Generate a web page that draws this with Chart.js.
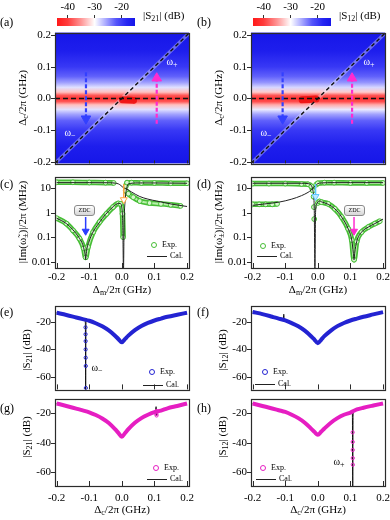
<!DOCTYPE html>
<html>
<head>
<meta charset="utf-8">
<title>Transmission maps and mode linewidths</title>
<script src="https://cdn.jsdelivr.net/npm/chart.js@4.4.1/dist/chart.umd.min.js"></script>
<style>
  html, body { margin: 0; padding: 0; background: #fff; overflow: hidden; }
  #fig { position: relative; width: 390px; height: 520px; overflow: hidden;
         font-family: "Liberation Serif", "Times New Roman", serif; color: #000; }
  #fig canvas { position: absolute; }
  .lb { position: absolute; white-space: nowrap; font-size: 11px; line-height: 1; }
  .c { transform: translate(-50%, -50%); }
  .r { transform: translate(-50%, -50%) rotate(-90deg); }
  .lb sub { font-size: 8px; vertical-align: -2px; line-height: 0; }
  .w { color: #fff; font-size: 10px; }
  .leg { font-size: 8px; transform: translateY(-50%); }
  .zdc { position: absolute; width: 19px; height: 9px; border: 1px solid #8a8a8a; border-radius: 3px;
         background: linear-gradient(#ffffff, #d6d6d6); font-size: 6px; line-height: 9px; text-align: center; }
</style>
</head>
<body>
<div id="fig"></div>
<script>
// ---------- data ----------

// shared detuning axis ticks (GHz) and dB ticks
const detTicks = [-0.2, -0.1, 0.0, 0.1, 0.2];
const dbTicks = [-60, -40, -20];
const rateTicks = [0.01, 0.1, 1, 10];

// colour scale of the maps (dB -> colour)
const cbTicks = [-40, -30, -20];
const cbRange = [-44, -15];
const cmapDb = [-44, -40, -35, -30, -26, -22, -18, -15];
const cmapRgb = [[255, 25, 25], [255, 60, 60], [255, 150, 150], [255, 255, 255],
                 [172, 172, 255], [85, 85, 250], [38, 38, 242], [22, 22, 232]];

// (a),(b) maps: |S| across the Δc band (outside the mode line)
const mapDc  = [-0.205, -0.15, -0.1, -0.07, -0.05, -0.035, -0.02, -0.01, 0, 0.01, 0.02, 0.035, 0.05, 0.07, 0.1, 0.15, 0.208];
const mapS21 = [-14, -16.5, -19.5, -22.5, -25.5, -28.5, -33, -38.5, -41, -38.5, -33, -28.5, -25.5, -22.5, -19.5, -16.5, -14];
const mapS12 = [-14, -16.5, -19.5, -22.5, -25.5, -29, -34, -39, -41, -38.5, -32.5, -28, -25, -22.5, -19.5, -16.5, -14];
const modeX = [-0.205, 0.206];            // mode line Δc = Δm
const spotAX = [0.002, 0.036], spotAY = [-0.004, -0.006];
const spotBX = [-0.048, -0.006], spotBY = [-0.004, -0.002];

// (c) |Im ω±|/2π (MHz) vs Δm
const cCal1X = [-0.2, -0.1, -0.04, -0.02, -0.01, -0.003, 0.003, 0.01, 0.02, 0.03, 0.055, 0.08, 0.107, 0.157, 0.2];
const cCal1Y = [17, 17, 16.8, 16.2, 15, 13, 11, 9.8, 8.5, 7, 4.6, 3.6, 3.0, 2.2, 1.8];
const cCal2X = [-0.2, -0.17, -0.15, -0.13, -0.12, -0.115, -0.112, -0.111, -0.11, -0.107, -0.1, -0.09, -0.07, -0.05, -0.03, -0.015, -0.005, 0.0, 0.003, 0.005, 0.007, 0.01, 0.015, 0.02, 0.05, 0.1, 0.2];
const cCal2Y = [0.6, 0.36, 0.2, 0.09, 0.05, 0.028, 0.017, 0.012, 0.017, 0.035, 0.07, 0.15, 0.38, 0.85, 1.6, 2.3, 2.4, 1.6, 0.3, 0.004, 0.4, 3, 10, 15, 16.5, 16.5, 16];
const cExp1X = [-0.2, -0.15, -0.1, -0.05, -0.025];
const cExp1Y = [17.5, 17.5, 17.2, 17, 16.5];
const cExp2X = [0.012, 0.016, 0.03, 0.06, 0.1, 0.15, 0.2];
const cExp2Y = [12, 17, 17, 16.5, 16.5, 16, 16];
const cExp3X = [0.012, 0.02, 0.035, 0.055, 0.085, 0.12, 0.15, 0.18];
const cExp3Y = [8, 6, 4.3, 3.0, 2.5, 2.3, 2.1, 1.9];
const cExp4X = [-0.2, -0.17, -0.15, -0.13, -0.117, -0.111, -0.104, -0.088, -0.068, -0.047, -0.027, -0.011, -0.004, 0.002, 0.004];
const cExp4Y = [0.6, 0.36, 0.19, 0.088, 0.035, 0.015, 0.04, 0.16, 0.42, 0.9, 1.7, 2.4, 2.3, 0.9, 0.1];

// (d) |Im ω±|/2π (MHz) vs Δm
const dCal1X = [-0.2, -0.15, -0.12, -0.08, -0.05, -0.03, -0.02, -0.012, -0.007, 0.0, 0.01, 0.05, 0.1, 0.2];
const dCal1Y = [2.0, 2.4, 2.7, 3.6, 5, 6.8, 8.5, 11, 13, 15.5, 16.5, 17, 17, 17];
const dCal2X = [-0.2, -0.1, -0.05, -0.03, -0.02, -0.015, -0.011, -0.009, -0.007, -0.004, 0.0, 0.005, 0.011, 0.032, 0.052, 0.073, 0.093, 0.104, 0.109, 0.111, 0.113, 0.119, 0.134, 0.155, 0.175, 0.2];
const dCal2Y = [16, 16, 16, 15.5, 13, 8, 1.5, 0.004, 1, 2.2, 2.8, 3.0, 2.8, 2.2, 1.45, 0.67, 0.22, 0.076, 0.022, 0.012, 0.022, 0.065, 0.16, 0.26, 0.36, 0.55];
const dExp1X = [-0.2, -0.15, -0.1, -0.05, -0.03, -0.02, -0.015];
const dExp1Y = [15.5, 15.5, 15.5, 15, 14.5, 12, 8];
const dExp2X = [-0.013, -0.012, -0.011];
const dExp2Y = [4.5, 1.7, 0.55];
const dExp3X = [-0.2, -0.18, -0.16, -0.14, -0.125];
const dExp3Y = [2.2, 2.2, 2.2, 2.2, 2.3];
const dExp4X = [-0.005, 0.0, 0.02, 0.05, 0.1, 0.15, 0.2];
const dExp4Y = [14, 16, 17, 17, 16.5, 16.5, 16.5];
const dExp5X = [0.0, 0.005, 0.011, 0.032, 0.052, 0.073, 0.093, 0.104, 0.111, 0.119, 0.134, 0.155, 0.175, 0.19];
const dExp5Y = [2.5, 2.9, 2.7, 2.3, 1.45, 0.67, 0.22, 0.076, 0.012, 0.065, 0.16, 0.26, 0.36, 0.45];

// (e)-(h) transmission (dB) vs Δc
const dcPts = [-0.2, -0.17, -0.14, -0.12, -0.1, -0.08, -0.06, -0.04, -0.02, -0.01, 0, 0.01, 0.02, 0.04, 0.06, 0.08, 0.1, 0.12, 0.14, 0.17, 0.2];
const eExp = [-13.4, -15.0, -16.8, -18.0, -19.2, -21.0, -23.2, -26.2, -30.2, -32.6, -34.8, -32.4, -30.0, -26.0, -23.0, -20.8, -19.0, -17.6, -16.3, -14.8, -13.4];
const fExp = [-12.8, -14.4, -16.3, -17.6, -19.0, -20.9, -23.2, -26.4, -30.6, -33.0, -35.5, -33.0, -30.4, -26.3, -23.1, -20.8, -19.0, -17.6, -16.3, -14.6, -12.9];
const gExp = [-13.3, -15.0, -16.8, -18.0, -19.3, -21.2, -23.5, -26.6, -31.0, -33.5, -36.0, -33.4, -30.8, -26.5, -23.3, -21.0, -19.2, -18.2, -16.6, -15.0, -13.3];
const hExp = [-13.3, -15.0, -16.7, -17.9, -19.1, -21.0, -23.3, -26.4, -30.6, -32.8, -34.6, -32.6, -30.4, -26.4, -23.3, -21.0, -19.5, -17.4, -16.2, -14.7, -13.3];

const eCalX = [-0.2, -0.17, -0.14, -0.12, -0.114, -0.1118, -0.111, -0.1102, -0.1092, -0.106, -0.1, -0.08, -0.06, -0.04, -0.02, -0.01, 0, 0.01, 0.02, 0.04, 0.06, 0.08, 0.1, 0.12, 0.14, 0.17, 0.2];
const eCalY = [-13.4, -15.0, -16.8, -18.0, -18.6, -21, -70, -24, -17.6, -18.4, -19.2, -21.0, -23.2, -26.2, -30.2, -32.6, -34.8, -32.4, -30.0, -26.0, -23.0, -20.8, -19.0, -17.6, -16.3, -14.8, -13.4];
const eDotX = [-0.1114, -0.1112, -0.111, -0.111, -0.1108, -0.1106, -0.1104];
const eDotY = [-24, -29, -34, -40, -46, -52, -68];

const fCalX = [-0.2, -0.17, -0.14, -0.12, -0.106, -0.1045, -0.103, -0.1, -0.08, -0.06, -0.04, -0.02, -0.01, 0, 0.01, 0.02, 0.04, 0.06, 0.08, 0.1, 0.12, 0.14, 0.17, 0.2];
const fCalY = [-12.8, -14.4, -16.3, -17.6, -18.6, -14.5, -18.8, -19.0, -20.9, -23.2, -26.4, -30.6, -33.0, -35.5, -33.0, -30.4, -26.3, -23.1, -20.8, -19.0, -17.6, -16.3, -14.6, -12.9];

const gCalX = [-0.2, -0.17, -0.14, -0.12, -0.1, -0.08, -0.06, -0.04, -0.02, -0.01, 0, 0.01, 0.02, 0.04, 0.06, 0.08, 0.1, 0.1035, 0.105, 0.1062, 0.108, 0.12, 0.14, 0.17, 0.2];
const gCalY = [-13.3, -15.0, -16.8, -18.0, -19.3, -21.2, -23.5, -26.6, -31.0, -33.5, -36.0, -33.4, -30.8, -26.5, -23.3, -21.0, -19.2, -19.0, -15.5, -21.5, -18.5, -18.2, -16.6, -15.0, -13.3];
const gDotX = [0.1055, 0.106, 0.1065];
const gDotY = [-18.5, -20.5, -21.5];

const hCalX = [-0.2, -0.17, -0.14, -0.12, -0.1, -0.08, -0.06, -0.04, -0.02, -0.01, 0, 0.01, 0.02, 0.04, 0.06, 0.08, 0.1, 0.104, 0.106, 0.107, 0.108, 0.1095, 0.12, 0.14, 0.17, 0.2];
const hCalY = [-13.3, -15.0, -16.7, -17.9, -19.1, -21.0, -23.3, -26.4, -30.6, -32.8, -34.6, -32.6, -30.4, -26.4, -23.3, -21.0, -19.5, -19.6, -20.5, -70, -22, -17.6, -17.4, -16.2, -14.7, -13.3];
const hDotX = [0.1068, 0.107, 0.107, 0.1072, 0.1074];
const hDotY = [-33, -39.5, -45, -50.5, -55];

// ---------- styling ----------
const FONT = '"Liberation Serif", "Times New Roman", serif';
const BLUE = '#2323d2', MAG = '#e61ec2', GREEN = '#46bd35', GREEN_IN = '#b8f0aa';
Chart.defaults.font.family = FONT;
Chart.defaults.font.size = 11;
Chart.defaults.color = '#000';

const fig = document.getElementById('fig');

function rgbStr(c) { return 'rgb(' + c.map(Math.round).join(',') + ')'; }

// colour for a dB level along the colour scale
function dbColor(db) {
  if (db <= cmapDb[0]) return rgbStr(cmapRgb[0]);
  for (let i = 1; i < cmapDb.length; i++) {
    if (db <= cmapDb[i]) {
      const t = (db - cmapDb[i - 1]) / (cmapDb[i] - cmapDb[i - 1]);
      return rgbStr(cmapRgb[i - 1].map((v, k) => v + (cmapRgb[i][k] - v) * t));
    }
  }
  return rgbStr(cmapRgb[cmapRgb.length - 1]);
}

function pts(xs, ys) { return xs.map((x, i) => ({ x: x, y: ys[i] })); }

function line(xs, ys, color, width, extra) {
  return Object.assign({
    data: pts(xs, ys), showLine: true, borderColor: color, borderWidth: width,
    pointRadius: 0, cubicInterpolationMode: 'monotone'
  }, extra || {});
}

function dots(xs, ys, color, r, fill) {
  return {
    data: pts(xs, ys), showLine: false, pointRadius: r, pointBorderWidth: 1,
    pointBorderColor: color, pointBackgroundColor: fill || 'rgba(255,255,255,0)'
  };
}

// shaft + triangle head
function arrow(x, y0, y1, yHead, color, o) {
  o = o || {};
  return [
    { data: [{ x: x, y: y0 }, { x: x, y: y1 }], showLine: true, borderColor: color,
      borderWidth: o.w || 2, borderDash: o.dash || [], pointRadius: 0 },
    { data: [{ x: x, y: yHead }], showLine: false, pointStyle: 'triangle',
      pointRadius: o.r || 4.5, pointRotation: y1 < y0 ? 180 : 0,
      pointBackgroundColor: o.fill || color, pointBorderColor: color, pointBorderWidth: 1 }
  ];
}

function axis(min, max, ticks, o) {
  return {
    type: o.log ? 'logarithmic' : 'linear',
    min: min, max: max, bounds: 'data',
    afterBuildTicks: s => { s.ticks = ticks.map(v => ({ value: v })); },
    afterFit: s => { if (s.isHorizontal()) s.height = o.size; else s.width = o.size; },
    grid: { display: false, drawTicks: false },
    border: { display: false },
    ticks: { display: o.labels !== false, padding: o.pad || 4, maxRotation: 0, autoSkip: false,
             callback: o.fmt || (v => String(v)) }
  };
}

const f1 = v => v.toFixed(1);

// box frame with inward x ticks and outward y ticks
function frame(tickIn) {
  return {
    id: 'frame',
    afterDraw(chart) {
      const { ctx, chartArea: a, scales } = chart;
      ctx.save();
      ctx.strokeStyle = '#2b2b2b';
      ctx.lineWidth = 1;
      ctx.beginPath();
      scales.x.ticks.forEach(t => {
        const px = Math.round(scales.x.getPixelForValue(t.value)) + 0.5;
        ctx.moveTo(px, a.bottom); ctx.lineTo(px, a.bottom - tickIn);
      });
      scales.y.ticks.forEach(t => {
        const py = Math.round(scales.y.getPixelForValue(t.value)) + 0.5;
        ctx.moveTo(a.left - 4, py); ctx.lineTo(a.left, py);
      });
      ctx.stroke();
      ctx.lineWidth = 1.2;
      ctx.strokeRect(Math.round(a.left) + 0.5, Math.round(a.top) + 0.5, Math.round(a.width), Math.round(a.height));
      ctx.restore();
    }
  };
}

// map background: colour of each Δc row
function mapFill(dc, db) {
  return {
    id: 'mapFill',
    beforeDatasetsDraw(chart) {
      const { ctx, chartArea: a, scales: { y } } = chart;
      const y0 = y.getPixelForValue(dc[0]), y1 = y.getPixelForValue(dc[dc.length - 1]);
      const g = ctx.createLinearGradient(0, y0, 0, y1);
      dc.forEach((v, i) => g.addColorStop((y.getPixelForValue(v) - y0) / (y1 - y0), dbColor(db[i])));
      ctx.save();
      ctx.fillStyle = g;
      ctx.fillRect(a.left, a.top, a.width, a.height);
      ctx.restore();
    }
  };
}

const cbFill = {
  id: 'cbFill',
  beforeDatasetsDraw(chart) {
    const { ctx, chartArea: a, scales: { x } } = chart;
    const g = ctx.createLinearGradient(a.left, 0, a.right, 0);
    cmapDb.forEach((v, i) => g.addColorStop((x.getPixelForValue(v) - a.left) / a.width, rgbStr(cmapRgb[i])));
    ctx.save();
    ctx.fillStyle = g;
    ctx.fillRect(a.left, a.top, a.width, a.height);
    ctx.restore();
  }
};

function addCanvas(left, top, w, h) {
  const c = document.createElement('canvas');
  c.width = w; c.height = h;
  c.style.left = left + 'px'; c.style.top = top + 'px';
  c.style.width = w + 'px'; c.style.height = h + 'px';
  fig.appendChild(c);
  return c;
}

function panel(left, top, h, pad, xAx, yAx, datasets, plugins) {
  const W = 205;
  // first dataset in the list is drawn at the bottom
  datasets.forEach((d, i) => { d.order = datasets.length - i; });
  return new Chart(addCanvas(left, top, W, h), {
    type: 'scatter',
    data: { datasets: datasets },
    options: {
      responsive: false, animation: false, events: [],
      layout: { padding: { left: 0, right: 16, top: pad[0], bottom: pad[1] } },
      plugins: { legend: { display: false }, tooltip: { enabled: false } },
      scales: { x: xAx, y: yAx }
    },
    plugins: (plugins || []).concat([frame(pad[2])])
  });
}

function colorbar(left) {
  new Chart(addCanvas(left, 0, 110, 30), {
    type: 'scatter',
    data: { datasets: [] },
    options: {
      responsive: false, animation: false, events: [],
      layout: { padding: { left: 7, right: 25, top: 0, bottom: 4 } },
      plugins: { legend: { display: false }, tooltip: { enabled: false } },
      scales: {
        x: {
          type: 'linear', position: 'top', min: cbRange[0], max: cbRange[1], bounds: 'data',
          afterBuildTicks: s => { s.ticks = cbTicks.map(v => ({ value: v })); },
          afterFit: s => { s.height = 18; },
          grid: { display: true, drawOnChartArea: false, drawTicks: true, tickLength: 3, color: '#333' },
          border: { display: false },
          ticks: { padding: 1, maxRotation: 0, autoSkip: false }
        },
        y: { display: false, min: 0, max: 1 }
      }
    },
    plugins: [cbFill]
  });
}

// ---------- panels ----------
const COL = [0, 196];
const xMap  = () => axis(-0.205, 0.206, detTicks, { labels: false, size: 0 });
const yMap  = () => axis(-0.205, 0.208, detTicks, { size: 55, fmt: f1 });
const xRate = () => axis(-0.205, 0.206, detTicks, { size: 22, pad: 3, fmt: f1 });
const yRate = () => axis(0.0055, 30, rateTicks, { log: true, size: 55 });
const xSTop = () => axis(-0.205, 0.206, detTicks, { labels: false, size: 0 });
const ySTop = () => axis(-69, -8.2, dbTicks, { size: 55 });
const xSBot = () => axis(-0.205, 0.206, detTicks, { size: 22, pad: 6, fmt: f1 });
const ySBot = () => axis(-69.5, -10, dbTicks, { size: 55 });

function mapSets(spotX, spotY, blueX, magX) {
  return [
    line(modeX, modeX, 'rgba(235,235,255,0.38)', 3.5),
    line(spotX, spotY, 'rgba(238,15,15,0.9)', 7, { borderCapStyle: 'round' }),
    line(modeX, [0, 0], '#111', 1.4, { borderDash: [5, 3] }),
    line(modeX, modeX, '#111', 1.4, { borderDash: [4, 3] })
  ].concat(arrow(blueX, 0.083, -0.058, -0.064, '#3340ff', { dash: [4, 2], w: 2.2, r: 5.5 }))
   .concat(arrow(magX, -0.08, 0.058, 0.064, '#ff2bd0', { dash: [4, 2], w: 2.2, r: 5.5 }));
}

colorbar(50);
colorbar(246);

panel(COL[0], 22, 152, [9, 9, 3], xMap(), yMap(),
  mapSets(spotAX, spotAY, -0.11, 0.107), [mapFill(mapDc, mapS21)]);
panel(COL[1], 22, 152, [9, 9, 3], xMap(), yMap(),
  mapSets(spotBX, spotBY, -0.108, 0.105), [mapFill(mapDc, mapS12)]);

function greenBand(xs, ys) {
  return [
    line(xs, ys, GREEN, 5.5),
    line(xs, ys, GREEN_IN, 2.2),
    dots(xs, ys, GREEN, 2.4, '#d6f6cd')
  ];
}

panel(COL[0], 166, 124, [10, 0, 5], xRate(), yRate(),
  [].concat(greenBand(cExp1X, cExp1Y), greenBand(cExp2X, cExp2Y),
            greenBand(cExp3X, cExp3Y), greenBand(cExp4X, cExp4Y),
            [line(cCal1X, cCal1Y, '#222', 1), line(cCal2X, cCal2Y, '#222', 1)],
            arrow(-0.111, 0.67, 0.2, 0.175, '#2a3cff', { w: 1.5, r: 4 }),
            arrow(0.006, 15, 3.6, 3.4, '#ffa640', { w: 1.5, r: 4, fill: '#ffffff' })));

panel(COL[1], 166, 124, [10, 0, 5], xRate(), yRate(),
  [].concat(greenBand(dExp1X, dExp1Y), greenBand(dExp3X, dExp3Y),
            greenBand(dExp4X, dExp4Y), greenBand(dExp5X, dExp5Y),
            [dots(dExp2X, dExp2Y, GREEN, 2.4, '#d6f6cd')],
            [line(dCal1X, dCal1Y, '#222', 1), line(dCal2X, dCal2Y, '#222', 1)],
            arrow(-0.007, 15, 5, 4.6, '#5fc8ff', { w: 1.5, r: 4, fill: '#bfe9ff' }),
            arrow(0.111, 0.67, 0.2, 0.175, '#ff2bd0', { w: 1.5, r: 4 })));

function sPanel(col, top, h, pad, xAx, yAx, exp, color, calX, calY, dotX, dotY) {
  const sets = [line(calX, calY, '#111', 1), line(dcPts, exp, color, 4)];
  if (dotX) sets.push(dots(dotX, dotY, color, 1.6));
  panel(col, top, h, pad, xAx, yAx, sets);
}

sPanel(COL[0], 295, 105, [10, 9, 5], xSTop(), ySTop(), eExp, BLUE, eCalX, eCalY, eDotX, eDotY);
sPanel(COL[1], 295, 105, [10, 9, 5], xSTop(), ySTop(), fExp, BLUE, fCalX, fCalY);
sPanel(COL[0], 388, 122, [10, 2, 5], xSBot(), ySBot(), gExp, MAG, gCalX, gCalY, gDotX, gDotY);
sPanel(COL[1], 388, 122, [10, 2, 5], xSBot(), ySBot(), hExp, MAG, hCalX, hCalY, hDotX, hDotY);

// ---------- text ----------
function label(html, x, y, cls, style) {
  const d = document.createElement('div');
  d.className = 'lb ' + (cls || '');
  d.innerHTML = html;
  d.style.left = x + 'px';
  d.style.top = y + 'px';
  if (style) d.style.cssText += style;
  fig.appendChild(d);
  return d;
}

[['(a)', 0, 16], ['(b)', 197, 16], ['(c)', 0, 178], ['(d)', 197, 178],
 ['(e)', 0, 306], ['(f)', 197, 306], ['(g)', 0, 402], ['(h)', 197, 402]]
  .forEach(p => label(p[0], p[1], p[2], '', 'font-size:12px'));

label('|S<sub>21</sub>| (dB)', 143, 10);
label('|S<sub>12</sub>| (dB)', 339, 10);

const dcTitle = '&Delta;<sub>c</sub>/2&pi; (GHz)';
const dmTitle = '&Delta;<sub>m</sub>/2&pi; (GHz)';
const imTitle = '|Im(&omega;&#771;<sub>&plusmn;</sub>)|/2&pi; (MHz)';
label(dcTitle, 22, 98, 'r');
label(dcTitle, 218, 98, 'r');
label(imTitle, 22, 222, 'r');
label(imTitle, 218, 222, 'r');
label('|S<sub>21</sub>| (dB)', 26, 350, 'r');
label('|S<sub>12</sub>| (dB)', 222, 350, 'r');
label('|S<sub>21</sub>| (dB)', 26, 437, 'r');
label('|S<sub>12</sub>| (dB)', 222, 437, 'r');
label(dmTitle, 122, 289, 'c');
label(dmTitle, 318, 289, 'c');
label(dcTitle, 122, 509, 'c');
label(dcTitle, 318, 509, 'c');

// mode names
label('&omega;<sub>&minus;</sub>', 70, 133, 'c w');
label('&omega;<sub>+</sub>', 172, 62, 'c w');
label('&omega;<sub>&minus;</sub>', 266, 133, 'c w');
label('&omega;<sub>+</sub>', 369, 62, 'c w');
label('&omega;<sub>&minus;</sub>', 97, 368, 'c', 'font-size:10px');
label('&omega;<sub>+</sub>', 339, 462, 'c', 'font-size:10px');

// zero-damping boxes
[[74, 205], [344, 205]].forEach(p => {
  const z = document.createElement('div');
  z.className = 'zdc';
  z.textContent = 'ZDC';
  z.style.left = p[0] + 'px';
  z.style.top = p[1] + 'px';
  fig.appendChild(z);
});

// legends: circle centre, row gap, line start, colour
function legend(cx, cy, gap, lx, color) {
  label('', cx - 3, cy - 3, '', 'width:4px;height:4px;border:1px solid ' + color + ';border-radius:50%');
  label('Exp.', cx + 8, cy, 'leg');
  label('', lx, cy + gap, '', 'width:20px;height:1px;background:#222');
  label('Cal.', lx + 23, cy + gap, 'leg');
}
legend(154, 245, 11, 147, GREEN);
legend(263, 246, 10, 257, GREEN);
legend(152, 372, 13, 143, BLUE);
legend(265, 372, 12, 255, BLUE);
legend(156, 468, 11, 147, MAG);
legend(263, 468, 11, 256, MAG);
</script>
</body>
</html>
